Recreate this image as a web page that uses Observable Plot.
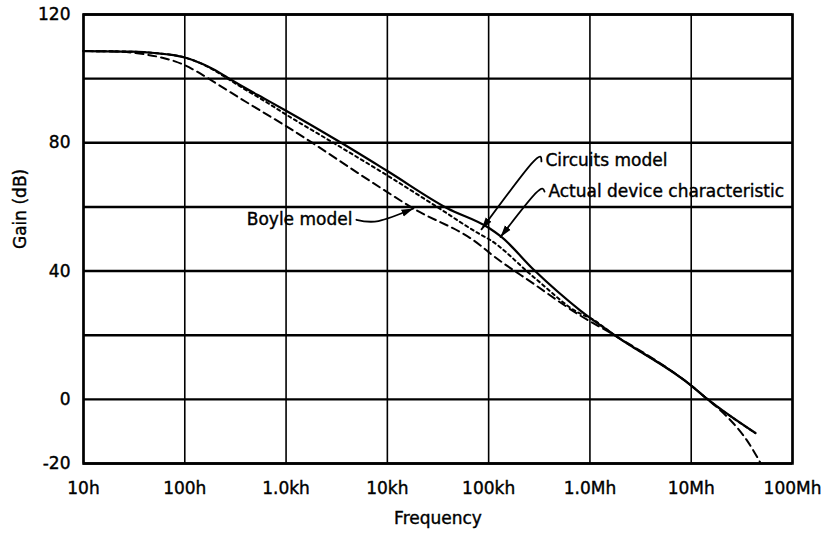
<!DOCTYPE html>
<html>
<head>
<meta charset="utf-8">
<script src="https://cdn.jsdelivr.net/npm/d3@7"></script>
<script src="https://cdn.jsdelivr.net/npm/@observablehq/plot@0.6"></script>
<style>
  html, body { margin: 0; padding: 0; background: #fff; }
  #chart svg { display: block; }
  #chart svg text { stroke: black; stroke-width: 0.4px; }
</style>
</head>
<body>
<div id="chart"></div>
<script>
// ---- Data (frequency in Hz, gain in dB) ----
const freqTicks  = [10, 100, 1e3, 1e4, 1e5, 1e6, 1e7, 1e8];
const freqLabels = ["10h", "100h", "1.0kh", "10kh", "100kh", "1.0Mh", "10Mh", "100Mh"];
const gainTicks  = [-20, 0, 40, 80, 120];
const gainGrid   = [-20, 0, 20, 40, 60, 80, 100, 120];

// Actual device characteristic (solid)
const actualFreq = [10, 30, 50, 100, 150, 200, 265, 400, 600, 1000, 3500, 10000, 39000, 100000, 132000, 279000, 805000, 1720000, 10000000, 14300000, 43000000];
const actualGain = [108.6, 108.4, 108.0, 106.6, 104.6, 102.6, 100.3, 97.0, 93.9, 90.0, 80, 71.2, 59.6, 53.5, 50.8, 40.4, 27.7, 20.2, 4.3, 0.2, -10.5];

// Circuits model (dotted)
const circuitsFreq = [10, 30, 50, 100, 150, 200, 265, 400, 600, 1000, 3000, 10000, 31000, 83000, 100000, 279000, 805000, 1000000, 1720000, 10000000, 14300000, 43000000];
const circuitsGain = [108.6, 108.4, 108.0, 106.6, 104.5, 102.4, 100.0, 96.5, 93.2, 88.8, 79.8, 69.8, 60, 51.4, 50.0, 38.1, 26.7, 25.4, 20.2, 4.3, 0.2, -10.5];

// Boyle model (dashed)
const boyleFreq = [10, 20, 40, 60, 80, 100, 130, 166, 250, 400, 1000, 10000, 17000, 83000, 100000, 279000, 805000, 1720000, 10000000, 14300000, 19500000, 26300000, 35500000, 47900000];
const boyleGain = [108.6, 108.5, 107.6, 106.5, 105.4, 104.2, 102.3, 100.3, 96.8, 92.8, 85.2, 64.6, 60, 48, 45.9, 36, 26.1, 20.1, 4.3, 0.2, -3.5, -7.6, -12.8, -19.6];

// Annotations
const noteText   = ["Boyle model", "Circuits model", "Actual device characteristic"];
const noteFreq   = [4520, 364000, 389000];
const noteGain   = [56.0, 74.5, 64.8];

const boyleLeaderFreq    = [4950, 8160, 18100];
const boyleLeaderGain    = [56.0, 55.6, 59.5];
const circuitsLeaderFreq = [332000, 265000, 85000];
const circuitsLeaderGain = [74.2, 73.5, 53.0];
const actualLeaderFreq   = [356000, 290000, 131000];
const actualLeaderGain   = [64.8, 64.2, 50.6];

// ---- Chart ----
const labelOf = new Map(freqTicks.map((f, i) => [f, freqLabels[i]]));

function filledArrow(color, context) {
  const ns = "http://www.w3.org/2000/svg";
  const doc = (context && context.document) || document;
  const m = doc.createElementNS(ns, "marker");
  m.setAttribute("viewBox", "0 -5 12 10");
  m.setAttribute("markerUnits", "userSpaceOnUse");
  m.setAttribute("markerWidth", 12);
  m.setAttribute("markerHeight", 10);
  m.setAttribute("refX", 12);
  m.setAttribute("refY", 0);
  m.setAttribute("orient", "auto");
  const p = doc.createElementNS(ns, "path");
  p.setAttribute("d", "M0,-3.6L12,0L0,3.6Z");
  p.setAttribute("fill", color);
  p.setAttribute("stroke", "none");
  m.appendChild(p);
  return m;
}

function leader(fx, gy) {
  return Plot.line({length: fx.length}, {
    x: fx, y: gy, curve: "natural", stroke: "black", strokeWidth: 1.8,
    markerEnd: filledArrow
  });
}

function note(i, anchor) {
  return Plot.text([noteText[i]], {x: [noteFreq[i]], y: [noteGain[i]], text: d => d, textAnchor: anchor, fill: "black"});
}

const chart = Plot.plot({
  width: 822,
  height: 536,
  marginLeft: 83,
  marginRight: 30,
  marginTop: 14,
  marginBottom: 73,
  style: {fontFamily: "'DejaVu Sans', sans-serif", fontSize: "17px", color: "black", background: "white"},
  x: {type: "log", domain: [10, 1e8]},
  y: {type: "linear", domain: [-20, 120]},
  marks: [
    Plot.ruleX(freqTicks, {stroke: "black", strokeWidth: 1.6}),
    Plot.ruleY(gainGrid, {stroke: "black", strokeWidth: 2.4}),
    Plot.frame({stroke: "black", strokeWidth: 2.6}),
    Plot.axisX(freqTicks, {tickSize: 0, tickPadding: 18, tickFormat: d => labelOf.get(d), label: null, fill: "black"}),
    Plot.axisY(gainTicks, {tickSize: 0, tickPadding: 13, tickFormat: d => `${d}`, label: null, fill: "black"}),
    Plot.line({length: boyleFreq.length}, {x: boyleFreq, y: boyleGain, curve: "monotone-x", stroke: "black", strokeWidth: 2, strokeDasharray: "8,5"}),
    Plot.line({length: circuitsFreq.length}, {x: circuitsFreq, y: circuitsGain, curve: "monotone-x", stroke: "black", strokeWidth: 2, strokeDasharray: "3,3.5"}),
    Plot.line({length: actualFreq.length}, {x: actualFreq, y: actualGain, curve: "monotone-x", stroke: "black", strokeWidth: 2.2}),
    leader(boyleLeaderFreq, boyleLeaderGain),
    leader(circuitsLeaderFreq, circuitsLeaderGain),
    leader(actualLeaderFreq, actualLeaderGain),
    note(0, "end"),
    note(1, "start"),
    note(2, "start"),
    Plot.text(["Frequency"], {frameAnchor: "bottom", text: d => d, dy: 60, fill: "black"}),
    Plot.text(["Gain (dB)"], {frameAnchor: "left", text: d => d, rotate: -90, dx: -63, dy: 10, fill: "black"})
  ]
});

document.getElementById("chart").appendChild(chart);
</script>
</body>
</html>
